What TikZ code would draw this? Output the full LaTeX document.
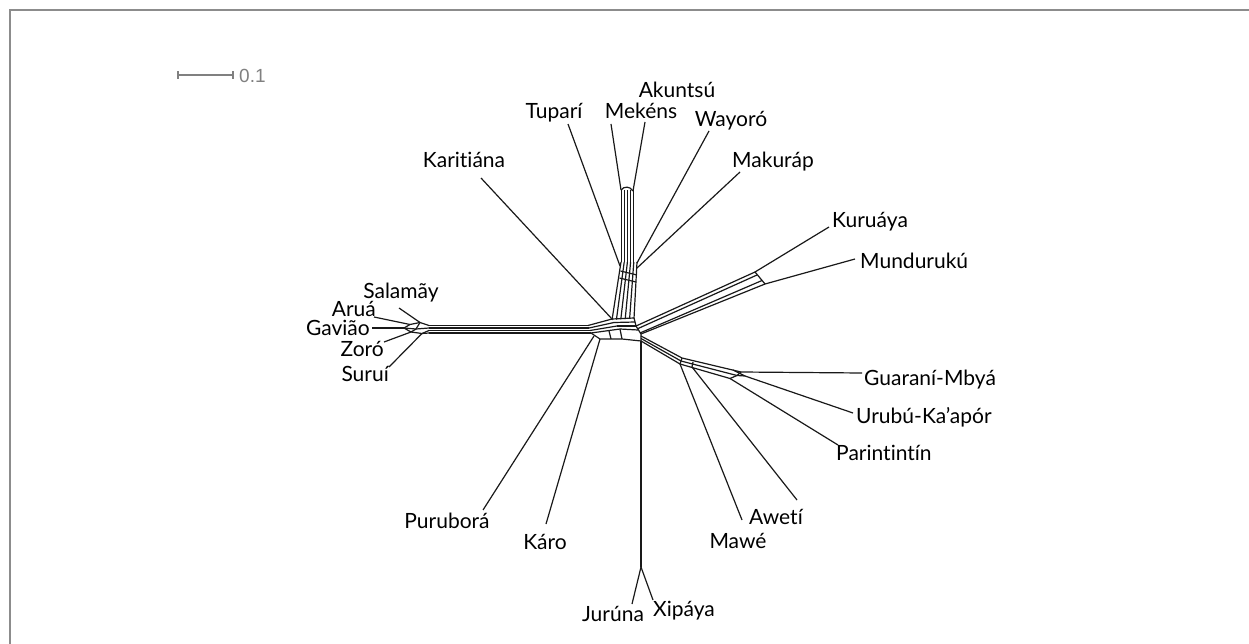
\documentclass[tikz,border=0pt]{standalone}
\usepackage{fontspec}
\setmainfont[Ligatures={NoCommon}]{Lato}
\newfontfamily\barfont{Liberation Sans}
\begin{document}
\begin{tikzpicture}[x=1pt,y=-1pt,
  edge/.style={line width=1.2pt, draw=black!90, line join=round},
  lab/.style={font=\fontsize{21}{21}\selectfont, inner sep=0pt, text=black},
  frame/.style={line width=2.2pt, draw=black!45},
  scalebar/.style={line width=1.1pt, draw=black!50}]
\useasboundingbox (0,0) rectangle (1249,644);
\draw[frame] (10,644) -- (10,10) -- (1249,10);

% scale bar
\coordinate (sb1) at (178,75);
\coordinate (sb2) at (233,75);
\draw[scalebar] (sb1) -- (sb2);
\draw[scalebar] ([yshift=-4]sb1) -- ([yshift=4]sb1);
\draw[scalebar] ([yshift=-4]sb2) -- ([yshift=4]sb2);
\node[anchor=west, inner sep=0pt, text=black!50, font=\barfont\fontsize{19}{19}\selectfont] (sbl) at (239,76) {0.1};

% ---------------- labels
\node[lab, anchor=base] (tupari) at (554,119) {Tuparí};
\node[lab, anchor=base] (mekens) at (641,119) {Mekéns};
\node[lab, anchor=base] (akuntsu) at (677,98) {Akuntsú};
\node[lab, anchor=base] (wayoro) at (731,127) {Wayoró};
\node[lab, anchor=base west] (makurap) at (732,168) {Makuráp};
\node[lab, anchor=base] (karitiana) at (464,168) {Karitiána};
\node[lab, anchor=base west] (kuruaya) at (832,228) {Kuruáya};
\node[lab, anchor=base west] (munduruku) at (860,268) {Mundurukú};
\node[lab, anchor=base] (salamay) at (401,298) {Salamãy};
\node[lab, anchor=base east] (arua) at (376,316) {Aruá};
\node[lab, anchor=base east] (gaviao) at (370,335) {Gavião};
\node[lab, anchor=base east] (zoro) at (384,356) {Zoró};
\node[lab, anchor=base east] (surui) at (389,381) {Suruí};
\node[lab, anchor=base west] (guarani) at (864,385) {Guaraní-Mbyá};
\node[lab, anchor=base west] (urubu) at (856,423) {Urubú-Ka’apór};
\node[lab, anchor=base west] (parintintin) at (836,460) {Parintintín};
\node[lab, anchor=base] (aweti) at (776,524) {Awetí};
\node[lab, anchor=base] (mawe) at (738,548) {Mawé};
\node[lab, anchor=base] (purubora) at (447,528) {Puruborá};
\node[lab, anchor=base] (karo) at (545,549) {Káro};
\node[lab, anchor=base] (juruna) at (613,621) {Jurúna};
\node[lab, anchor=base] (xipaya) at (684,616) {Xipáya};

% ---------------- leaf ends
\coordinate (eTupari) at (568,124);
\coordinate (eMekens) at (611,124);
\coordinate (eAkuntsu) at (645,122);
\coordinate (eWayoro) at (709,131);
\coordinate (eMakurap) at (740,172);
\coordinate (eKaritiana) at (481,178);
\coordinate (eKuruaya) at (829,227);
\coordinate (eMunduruku) at (855,259);
\coordinate (eSalamay) at (399,308);
\coordinate (eArua) at (374,317);
\coordinate (eGaviao) at (372,328);
\coordinate (eZoro) at (384,342);
\coordinate (eSurui) at (389,367);
\coordinate (eGuarani) at (862,373);
\coordinate (eUrubu) at (853,413);
\coordinate (eParintintin) at (838,445);
\coordinate (eAweti) at (797,500);
\coordinate (eMawe) at (742,520);
\coordinate (ePurubora) at (483,510);
\coordinate (eKaro) at (546,524);
\coordinate (eJuruna) at (632,604);
\coordinate (eXipaya) at (653,600);

% ---------------- left cluster
\coordinate (lS) at (420,322.5);
\coordinate (lA) at (410,324.5);
\coordinate (lG) at (404,328);
\coordinate (lZ) at (411,332);
\coordinate (lU) at (422,333.5);
\draw[edge] (lS) -- (eSalamay);
\draw[edge] (lA) -- (eArua);
\draw[edge] (lG) -- (eGaviao);
\draw[edge] (lZ) -- (eZoro);
\draw[edge] (lU) -- (eSurui);
\draw[edge] (429,325.5) -- (lS) -- (lA) -- (lG) -- (lZ) -- (lU) -- (429,333);
\draw[edge] (lS) -- (416,329) -- (lZ);
\draw[edge] (416,329) -- (lG);
\draw[edge] (429,328) -- (416,329);
\draw[edge] (429,330.5) -- (lU);
% left band
\foreach \y/\e in {325.5/588,328/589,330.5/590,333/591}
  \draw[edge] (429,\y) -- (\e,\y);

% ---------------- centre mesh
\coordinate (q0) at (588,325.5);
\coordinate (q0b) at (591,333);
\coordinate (q1) at (612,319);
\coordinate (q2) at (634,318);
\coordinate (q3) at (636,326);
\coordinate (q4) at (641,334);
\coordinate (q5) at (641,341);
\coordinate (q6) at (600,339);
\draw[edge] (q0) -- (q1);
\draw[edge] (589,328) -- (614,322.5);
\draw[edge] (590,330.5) -- (617,326);
\draw[edge] (q0b) -- (620,329);
\draw[edge] (q1) -- (q2);
\draw[edge] (614,322.5) -- (635,322);
\draw[edge] (617,326) -- (q3);
\draw[edge] (620,329) -- (638,330);
\draw[edge] (q2) -- (q3) -- (q4) -- (q5);
\draw[edge] (q0b) -- (q6) -- (622,339) -- (q5);
\draw[edge] (620,329) -- (622,339);
\draw[edge] (609,331) -- (611,339);
\draw[edge] (q1) -- (eKaritiana);
\draw[edge] (594,336) -- (ePurubora);
\draw[edge] (q6) -- (eKaro);

% ---------------- vertical (Tupari) band
\foreach \i in {0,...,5}
  \draw[edge] ({612+4.4*\i},{320-0.3*\i}) -- ({621+3.2*\i},262);
\draw[edge] (620.5,271) -- (637,275);
\draw[edge] (619.5,278) -- (636,282);
\foreach \xx in {621,624,627,630,633}
  \draw[edge, line width=0.9pt] (\xx,262) -- (\xx,190);
\draw[edge] (621,190) .. controls (624,186) and (630,186) .. (633,191);
\draw[edge] (621,190) -- (eMekens);
\draw[edge] (633,191) -- (eAkuntsu);
\draw[edge] (637,263) -- (eWayoro);
\draw[edge] (637,268) -- (eMakurap);
\draw[edge] (620,266) -- (eTupari);

% ---------------- Kuruaya / Munduruku band
\coordinate (k1) at (755,272);
\coordinate (k2) at (765,284);
\draw[edge] (q3) -- (k1);
\draw[edge] (637,329) -- (757,275);
\draw[edge] (640,333) -- (762,280.5);
\draw[edge] (q4) -- (k2);
\draw[edge] (k1) -- (k2);
\draw[edge] (k1) -- (eKuruaya);
\draw[edge] (k2) -- (eMunduruku);

% ---------------- Tupi-Guarani band
\coordinate (t1) at (741,372);
\coordinate (t2) at (737,375.5);
\coordinate (t3) at (730,378.5);
\draw[edge] (641,336) -- (682,358) -- (t1);
\draw[edge] (641,338.5) -- (681,361) -- (t2);
\draw[edge] (q5) -- (680,364) -- (t3);
\draw[edge] (682,358) -- (680,364);
\draw[edge] (t1) -- (t2) -- (t3);
\draw[edge] (733,370) -- (745,376) -- (t2);
\draw[edge] (692,367) -- (693,362);
\draw[edge] (t1) -- (eGuarani);
\draw[edge] (745,376) -- (eUrubu);
\draw[edge] (t3) -- (eParintintin);
\draw[edge] (692,367) -- (eAweti);
\draw[edge] (680,364) -- (eMawe);

% ---------------- Juruna / Xipaya
\coordinate (jf) at (641,567);
\draw[edge, line width=1.8pt] (q5) -- (jf);
\draw[edge] (jf) -- (eJuruna);
\draw[edge] (jf) -- (eXipaya);
\end{tikzpicture}
\end{document}
